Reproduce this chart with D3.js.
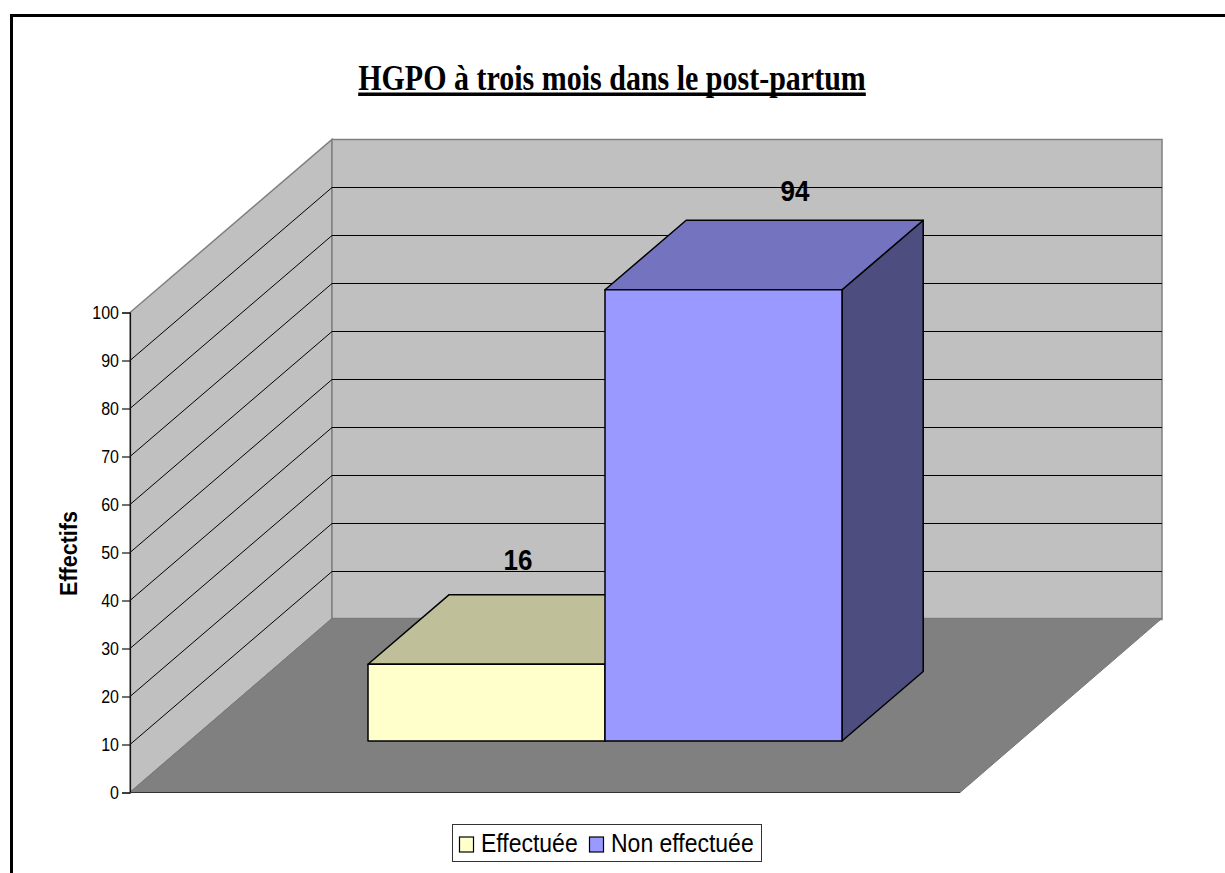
<!DOCTYPE html>
<html><head><meta charset="utf-8">
<script src="https://cdnjs.cloudflare.com/ajax/libs/d3/7.8.5/d3.min.js"></script>
<style>html,body{margin:0;padding:0;background:#fff;overflow:hidden}svg{display:block}</style>
</head><body><svg id="c" width="1225" height="873"></svg>
<script>
const titleText = "HGPO à trois mois dans le post-partum";
const yAxisLabel = "Effectifs";
const categories = ["Effectuée", "Non effectuée"];
const values = [16, 94];
const frontColors = ["#ffffcc", "#9999ff"];
const topColors = ["#bfbf99", "#7373bf"];
const sideColors = ["#80805f", "#4d4d80"];
const yTicks = [0,10,20,30,40,50,60,70,80,90,100];

const svg = d3.select("#c");
const sans = "'Liberation Sans', Arial, sans-serif";
const serif = "'Liberation Serif', 'Times New Roman', serif";

// frame
svg.append("path").attr("d","M1225,15.5H11.5V873").attr("fill","none").attr("stroke","#000").attr("stroke-width",3);

// scales: front plane, plus a depth scale for the oblique projection
const y = d3.scaleLinear().domain([0,100]).range([792.5,312.5]);
const xPlane = d3.scaleLinear().domain([0,1]).range([130,960]);
const depthX = d3.scaleLinear().domain([0,1]).range([0,202]);
const depthY = d3.scaleLinear().domain([0,1]).range([0,-173]);
const proj = (u,v,d)=>[xPlane(u)+depthX(d), y(v)+depthY(d)];
const poly = pts => "M"+pts.map(p=>p.join(",")).join("L")+"Z";

// walls and floor
svg.append("path").attr("d",poly([proj(0,0,0),proj(0,100,0),proj(0,100,1),proj(0,0,1)]))
  .attr("fill","#c0c0c0").attr("stroke","#808080").attr("stroke-width",1.5);
svg.append("path").attr("d",poly([proj(0,0,1),proj(0,100,1),proj(1,100,1),proj(1,0,1)]))
  .attr("fill","#c0c0c0").attr("stroke","#808080").attr("stroke-width",1.5);
svg.append("path").attr("d",poly([proj(0,0,0),proj(1,0,0),proj(1,0.25,1),proj(0,0.25,1)]))
  .attr("fill","#808080").attr("stroke","#777").attr("stroke-width",1);

// gridlines
const grid = yTicks.filter(t=>t>0&&t<100);
const line = (a,b)=>"M"+a.join(",")+"L"+b.join(",");
svg.append("g").selectAll("path").data(grid).join("path")
  .attr("d",t=>line(proj(0,t,0),proj(0,t,1))).attr("stroke","#000").attr("stroke-width",1).attr("fill","none");
svg.append("g").selectAll("path").data(grid).join("path")
  .attr("d",t=>line(proj(0,t,1),proj(1,t,1))).attr("stroke","#000").attr("stroke-width",1).attr("fill","none");

// axis
const axis = svg.append("g").attr("transform","translate(130,0)")
  .call(d3.axisLeft(y).tickValues(yTicks).tickSize(8).tickPadding(3).tickFormat(d3.format("d")));
axis.selectAll("path,line").attr("stroke","#111").attr("stroke-width",1.2);
axis.selectAll("text").attr("font-family",sans).attr("font-size",16).attr("fill","#000")
  .attr("transform","scale(1,1.2)");
svg.append("path").attr("d",line(proj(0,0,0),proj(1,0,0))).attr("stroke","#333").attr("stroke-width",1.2);

svg.append("text").attr("transform","translate(77,553.5) rotate(-90) scale(1,1.08)").attr("text-anchor","middle")
  .attr("font-family",sans).attr("font-weight","bold").attr("font-size",21.5).text(yAxisLabel);

// bars: front faces start 51.5px up the floor from the front edge
const d0 = 51.5/173, d1 = d0+0.402;
const xBar = d3.scaleBand().domain(categories)
  .range([xPlane.invert(368-depthX(d0)), xPlane.invert(842-depthX(d0))]);
const labelDx = [31.5, 71.5];
const labelDy = [-25, -19];
const bars = categories.map((c,i)=>({c,i,v:values[i],u0:xBar(c),u1:xBar(c)+xBar.bandwidth()}));
const g = svg.append("g").attr("stroke","#000").attr("stroke-width",1.5).attr("stroke-linejoin","round");
bars.forEach(b=>{
  const bot = y(0)+depthY(d0), top = bot-(y(0)-y(b.v));
  const P=(u,py,d)=>[xPlane(u)+depthX(d), py+depthY(d-d0)];
  g.append("path").attr("d",poly([P(b.u1,bot,d0),P(b.u1,top,d0),P(b.u1,top,d1),P(b.u1,bot,d1)])).attr("fill",sideColors[b.i]);
  g.append("path").attr("d",poly([P(b.u0,top,d0),P(b.u1,top,d0),P(b.u1,top,d1),P(b.u0,top,d1)])).attr("fill",topColors[b.i]);
  g.append("path").attr("d",poly([P(b.u0,bot,d0),P(b.u1,bot,d0),P(b.u1,top,d0),P(b.u0,top,d0)])).attr("fill",frontColors[b.i]);
  const fc = P((b.u0+b.u1)/2,top,d0), lp = P(0,top,d1);
  svg.append("text").attr("transform",`translate(${fc[0]+labelDx[b.i]},${lp[1]+labelDy[b.i]}) scale(1,1.13)`)
    .attr("text-anchor","middle")
    .attr("font-family",sans).attr("font-weight","bold").attr("font-size",26).attr("fill","#000").text(b.v);
});

// title
const tt = svg.append("text").attr("transform","translate(612,90) scale(1,1.2)").attr("text-anchor","middle")
  .attr("font-family",serif).attr("font-weight","bold").attr("font-size",30)
  .attr("fill","#000").text(titleText);
const tw = tt.node().getComputedTextLength();
svg.append("line").attr("x1",612-tw/2).attr("x2",612+tw/2).attr("y1",94.2).attr("y2",94.2)
  .attr("stroke","#000").attr("stroke-width",3.6);

// legend
const lg = svg.append("g");
lg.append("rect").attr("x",452.5).attr("y",824.5).attr("width",309).attr("height",37)
  .attr("fill","#fff").attr("stroke","#333").attr("stroke-width",1);
const lx = d3.scaleOrdinal().domain(categories).range([459.5,589.5]);
categories.forEach((c,i)=>{
  lg.append("rect").attr("x",lx(c)).attr("y",837).attr("width",14).attr("height",15)
    .attr("fill",frontColors[i]).attr("stroke","#000").attr("stroke-width",1.2);
  lg.append("text").attr("transform",`translate(${lx(c)+21.5},852) scale(1,1.1)`)
    .attr("font-family",sans).attr("font-size",23).attr("fill","#000").text(c);
});
</script></body></html>
